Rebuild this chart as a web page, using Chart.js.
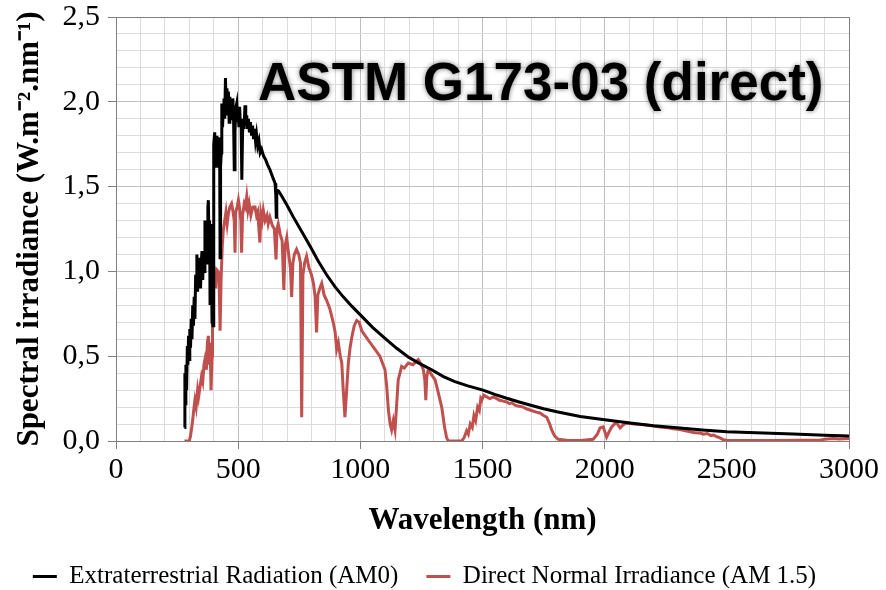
<!DOCTYPE html>
<html>
<head>
<meta charset="utf-8">
<script src="https://cdn.jsdelivr.net/npm/chart.js@4.4.0/dist/chart.umd.min.js"></script>
<style>
  html, body { margin: 0; padding: 0; background: #fff; }
</style>
</head>
<body>
<canvas id="chart" width="886" height="590"></canvas>
<script>
// series names
const seriesLabels = ['Extraterrestrial Radiation (AM0)', 'Direct Normal Irradiance (AM 1.5)'];

// AM0 spectrum (nm, W.m-2.nm-1)
const am0Wavelength = [280, 282, 284, 286, 289, 292, 294, 297, 300, 302, 305, 308, 311, 314, 317, 320, 323, 326, 329, 331,
  334, 337, 340, 343, 346, 349, 352, 355, 358, 361, 364, 367, 370, 373, 376, 378, 381, 383, 385, 388,
  390, 393, 395, 397, 399, 401, 404, 407, 410, 413, 416, 418, 421, 424, 426, 428, 431, 433, 436, 439,
  442, 445, 448, 451, 454, 457, 460, 463, 466, 469, 472, 475, 478, 481, 484, 487, 490, 494, 497, 500,
  503, 506, 509, 512, 515, 518, 521, 524, 528, 531, 535, 538, 542, 546, 550, 555, 559, 563, 567, 571,
  575, 580, 585, 590, 596, 604, 612, 620, 630, 640, 651, 654, 656, 658, 665, 680, 700, 726, 760, 794,
  828, 862, 896, 930, 965, 999, 1050, 1101, 1150, 1196, 1245, 1292, 1340, 1387, 1440, 1502, 1550, 1599, 1650, 1694,
  1750, 1804, 1900, 2008, 2104, 2200, 2308, 2400, 2500, 2650, 2772, 2900, 3000];
const am0Values = [0.08, 0.40, 0.22, 0.45, 0.30, 0.56, 0.45, 0.62, 0.48, 0.66, 0.55, 0.72, 0.60, 0.80, 0.68, 0.85, 0.72, 0.98, 0.90, 1.10,
  0.88, 1.05, 0.93, 1.08, 0.90, 1.06, 1.12, 0.95, 1.10, 1.00, 1.30, 1.12, 1.28, 1.05, 1.38, 1.42, 1.15, 1.30, 0.81, 1.28,
  1.10, 0.70, 1.05, 0.68, 1.45, 1.75, 1.82, 1.68, 1.62, 1.80, 1.72, 1.79, 1.66, 1.78, 1.08, 1.62, 1.70, 1.99, 1.85, 1.95,
  2.02, 1.90, 2.14, 1.96, 2.08, 1.92, 2.06, 1.88, 2.03, 1.94, 2.00, 1.90, 2.02, 1.92, 1.60, 1.82, 1.96, 1.99, 1.88, 1.95,
  1.85, 1.97, 1.86, 1.90, 1.54, 1.82, 1.90, 1.84, 1.98, 1.86, 1.92, 1.84, 1.90, 1.82, 1.88, 1.80, 1.86, 1.78, 1.84, 1.77,
  1.81, 1.74, 1.77, 1.70, 1.72, 1.68, 1.66, 1.63, 1.60, 1.56, 1.52, 1.45, 1.32, 1.48, 1.475, 1.44, 1.39, 1.32, 1.235, 1.15,
  1.06, 0.98, 0.91, 0.85, 0.795, 0.745, 0.67, 0.605, 0.545, 0.495, 0.455, 0.42, 0.38, 0.35, 0.325, 0.30, 0.275, 0.252, 0.23, 0.212,
  0.19, 0.172, 0.145, 0.124, 0.106, 0.09, 0.077, 0.065, 0.055, 0.047, 0.041, 0.034, 0.03];

// AM1.5 direct normal spectrum
const dniWavelength = [280, 300, 305, 312, 318, 323, 328, 334, 338, 344, 350, 355, 360, 364, 370, 374, 378, 382, 385, 389,
  393, 395, 398, 403, 408, 412, 418, 422, 426, 430, 435, 439, 445, 450, 455, 460, 466, 473, 478, 484,
  487, 490, 496, 501, 507, 511, 514, 518, 525, 530, 535, 540, 545, 552, 560, 569, 575, 580, 589, 593,
  598, 603, 610, 618, 623, 630, 640, 648, 655, 659, 664, 672, 680, 687, 692, 699, 705, 714, 719, 724,
  730, 739, 748, 755, 760, 765, 772, 780, 790, 800, 808, 815, 821, 826, 834, 842, 852, 862, 875, 889,
  897, 903, 910, 918, 924, 930, 937, 944, 951, 958, 965, 975, 985, 995, 1006, 1030, 1060, 1080, 1101, 1108,
  1115, 1122, 1128, 1135, 1142, 1148, 1155, 1162, 1169, 1180, 1196, 1215, 1237, 1250, 1258, 1264, 1268, 1272, 1278, 1292,
  1306, 1320, 1333, 1345, 1353, 1360, 1415, 1425, 1435, 1442, 1450, 1458, 1465, 1472, 1480, 1487, 1493, 1497, 1505, 1517,
  1530, 1545, 1558, 1570, 1585, 1599, 1610, 1620, 1635, 1650, 1667, 1680, 1700, 1720, 1735, 1750, 1763, 1775, 1783, 1795,
  1810, 1850, 1900, 1953, 1970, 1981, 1994, 2008, 2020, 2029, 2040, 2049, 2057, 2063, 2075, 2090, 2120, 2150, 2172, 2200,
  2226, 2260, 2280, 2308, 2330, 2350, 2370, 2390, 2405, 2420, 2435, 2445, 2460, 2472, 2485, 2500, 2600, 2700, 2800, 2881,
  2900, 2935, 2960, 3000];
const dniValues = [0, 0, 0.03, 0.10, 0.18, 0.24, 0.20, 0.30, 0.26, 0.32, 0.38, 0.35, 0.45, 0.48, 0.42, 0.58, 0.62, 0.45, 0.58, 0.30,
  0.50, 0.75, 0.91, 0.98, 0.90, 1.01, 1.00, 0.95, 0.65, 0.95, 1.15, 1.24, 1.30, 1.35, 1.28, 1.34, 1.38, 1.40, 1.36, 1.30,
  1.11, 1.35, 1.38, 1.42, 1.36, 1.30, 1.11, 1.33, 1.40, 1.38, 1.44, 1.36, 1.40, 1.33, 1.38, 1.38, 1.33, 1.35, 1.17, 1.34,
  1.30, 1.36, 1.30, 1.33, 1.28, 1.32, 1.27, 1.25, 1.07, 1.25, 1.28, 1.22, 1.18, 0.89, 1.15, 1.20, 1.12, 1.02, 0.85, 1.05,
  1.10, 1.13, 1.10, 1.05, 0.14, 0.98, 1.05, 1.09, 1.02, 0.98, 0.93, 0.85, 0.64, 0.86, 0.90, 0.93, 0.86, 0.83, 0.78, 0.70,
  0.64, 0.54, 0.58, 0.50, 0.46, 0.30, 0.14, 0.30, 0.46, 0.55, 0.61, 0.68, 0.71, 0.70, 0.65, 0.60, 0.54, 0.50, 0.42, 0.32,
  0.18, 0.10, 0.065, 0.12, 0.065, 0.20, 0.36, 0.40, 0.44, 0.43, 0.46, 0.45, 0.48, 0.45, 0.42, 0.36, 0.24, 0.38, 0.42, 0.39,
  0.36, 0.28, 0.20, 0.08, 0.02, 0, 0, 0.02, 0.06, 0.04, 0.10, 0.08, 0.15, 0.12, 0.20, 0.18, 0.25, 0.24, 0.27, 0.26,
  0.25, 0.26, 0.25, 0.24, 0.235, 0.23, 0.22, 0.225, 0.21, 0.205, 0.20, 0.19, 0.18, 0.17, 0.165, 0.15, 0.14, 0.10, 0.065, 0.03,
  0.01, 0.003, 0.003, 0.01, 0.04, 0.077, 0.083, 0.024, 0.06, 0.083, 0.10, 0.106, 0.09, 0.077, 0.095, 0.106, 0.10, 0.097, 0.094, 0.088,
  0.083, 0.078, 0.072, 0.068, 0.060, 0.055, 0.048, 0.047, 0.040, 0.044, 0.032, 0.035, 0.025, 0.018, 0.008, 0.004, 0.003, 0.003, 0.004, 0.005,
  0.01, 0.015, 0.012, 0.015];

const chartTitle = 'ASTM G173-03 (direct)';

const toPoints = (xs, ys) => xs.map((x, i) => ({ x: x, y: ys[i] }));

// frame round the plot area
const plotFrame = {
  id: 'plotFrame',
  beforeDatasetsDraw(chart) {
    const { ctx, chartArea: { left, top, right, bottom } } = chart;
    ctx.save();
    ctx.strokeStyle = '#808080';
    ctx.lineWidth = 1;
    ctx.strokeRect(left + 0.5, top + 0.5, right - left, bottom - top);
    ctx.restore();
  }
};

// the big title inside the plot, with its soft halo
const bigTitle = {
  id: 'bigTitle',
  afterDatasetsDraw(chart) {
    const { ctx } = chart;
    ctx.save();
    ctx.font = 'bold 53px "Liberation Sans", Arial, sans-serif';
    ctx.fillStyle = '#000';
    ctx.textAlign = 'left';
    ctx.textBaseline = 'alphabetic';
    ctx.shadowColor = 'rgba(0,0,0,0.55)';
    ctx.shadowBlur = 5;
    ctx.fillText(chartTitle, 258, 100);
    ctx.restore();
  }
};

const isMajorX = v => Math.round(v) % 500 === 0;
const isMajorY = v => Math.round(v * 10) % 5 === 0;
const serif = '"Liberation Serif", "Times New Roman", serif';

new Chart(document.getElementById('chart').getContext('2d'), {
  type: 'line',
  data: {
    datasets: [{
      label: seriesLabels[0],
      data: toPoints(am0Wavelength, am0Values),
      borderColor: '#000000',
      backgroundColor: '#000000',
      borderWidth: 3,
      pointRadius: 0,
      tension: 0
    }, {
      label: seriesLabels[1],
      data: toPoints(dniWavelength, dniValues),
      borderColor: '#C0504D',
      backgroundColor: '#C0504D',
      borderWidth: 3,
      pointRadius: 0,
      tension: 0
    }]
  },
  options: {
    responsive: false,
    animation: false,
    layout: { padding: { top: 17, right: 37, left: 0, bottom: -9 } },
    plugins: {
      legend: {
        position: 'bottom',
        labels: {
          usePointStyle: true,
          pointStyle: 'line',
          pointStyleWidth: 24,
          padding: 28,
          color: '#000',
          font: { family: serif, size: 25 }
        }
      },
      tooltip: { enabled: false }
    },
    scales: {
      x: {
        type: 'linear',
        min: 0,
        max: 3000,
        afterFit(s) { s.height = 95; },
        ticks: {
          stepSize: 100,
          autoSkip: false,
          maxRotation: 0,
          padding: 3,
          color: '#000',
          font: { family: serif, size: 30 },
          callback: v => isMajorX(v) ? String(v) : ''
        },
        grid: {
          color: c => isMajorX(c.tick.value) ? '#bfbfbf' : '#dcdcdc',
          tickColor: c => isMajorX(c.tick.value) ? '#808080' : 'rgba(0,0,0,0)',
          tickLength: 8
        },
        border: { color: '#808080' },
        title: {
          display: true,
          text: 'Wavelength (nm)',
          color: '#000',
          padding: { top: 0, bottom: -4 },
          font: { family: serif, size: 31, weight: 'bold' }
        }
      },
      y: {
        min: 0,
        max: 2.5,
        afterFit(s) {
          s.width = 116;
          s.paddingTop = 0;
          s.paddingBottom = 0;
        },
        ticks: {
          stepSize: 0.1,
          autoSkip: false,
          padding: 8,
          color: '#000',
          font: { family: serif, size: 30, lineHeight: 1.1 },
          callback: v => isMajorY(v) ? v.toFixed(1).replace('.', ',') : ''
        },
        grid: {
          color: c => isMajorY(c.tick.value) ? '#bfbfbf' : '#dcdcdc',
          tickColor: c => isMajorY(c.tick.value) ? '#808080' : 'rgba(0,0,0,0)',
          tickLength: 8
        },
        border: { color: '#808080' },
        title: {
          display: true,
          text: 'Spectral irradiance (W.m\u207B\u00B2.nm\u207B\u00B9)',
          color: '#000',
          padding: { top: 11, bottom: 0 },
          font: { family: serif, size: 31, weight: 'bold' }
        }
      }
    }
  },
  plugins: [plotFrame, bigTitle]
});
</script>
</body>
</html>
